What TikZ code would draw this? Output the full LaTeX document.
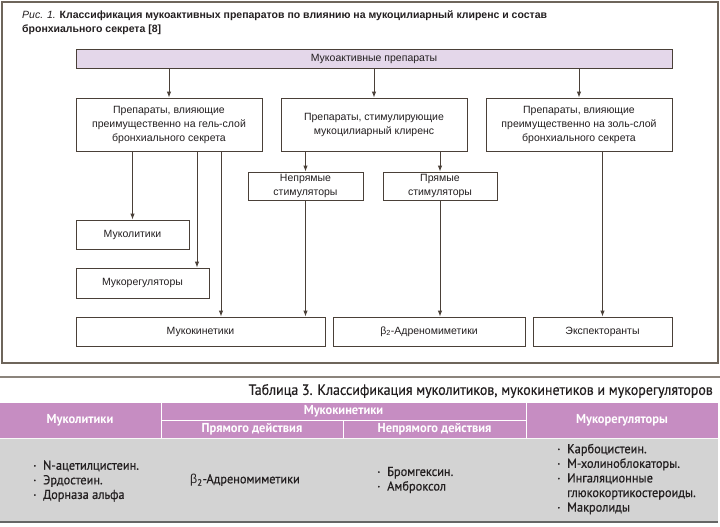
\documentclass[tikz,border=0pt]{standalone}
\usepackage{fontspec}
\setmainfont{Liberation Sans}
\newfontfamily\tabfont[FakeStretch=0.95,FakeBold=0.6]{PT Sans}
\newfontfamily\tabhfont[FakeStretch=0.96]{PT Sans}
\newfontfamily\tabtfont[FakeStretch=0.93,FakeBold=0.4]{PT Sans}
\newfontfamily\grkfont[FakeStretch=0.95]{Liberation Sans}
\usetikzlibrary{arrows.meta}
\definecolor{framec}{HTML}{6E655B}
\definecolor{linec}{HTML}{4A4038}
\definecolor{lav}{HTML}{E4D7EA}
\definecolor{hdr}{HTML}{C68DC2}
\definecolor{bodyg}{HTML}{D3D3D3}
\definecolor{txt}{HTML}{231F20}
\newcommand\bul{\makebox[10pt][l]{·}}
\tikzset{
  box/.style={draw=linec, line width=0.9pt, rectangle, inner sep=0pt, align=center,
    font=\fontsize{10.5}{14}\selectfont, text=txt},
  arr/.style={draw=linec, line width=0.9pt, -{Latex[length=6pt,width=4.5pt]}},
  hdtext/.style={text=white, font=\tabhfont\bfseries\fontsize{13}{14}\selectfont, inner sep=0pt},
  bdtext/.style={text=txt, font=\tabfont\fontsize{13}{14.6}\selectfont, inner sep=0pt, align=left, anchor=west}
}
\begin{document}
\begin{tikzpicture}[x=1pt,y=-1pt]
\useasboundingbox (0,0) rectangle (720,527);
\fill[white] (0,0) rectangle (720,527);
% outer frame
\draw[framec, line width=1.2pt] (2,2) rectangle (718,363);
% title
\node[anchor=north west, align=left, inner sep=0pt, text=txt,
  font=\fontsize{10.5}{14}\selectfont] (title) at (22,10)
  {\textit{Рис. 1.} \textbf{Классификация мукоактивных препаратов по влиянию на мукоцилиарный клиренс и состав}\\
   \textbf{бронхиального секрета [8]}};
% boxes
\node[box, fill=lav, minimum width=596pt, minimum height=19pt] (top) at (374,58.5) {Мукоактивные препараты};
\node[box, minimum width=186pt, minimum height=53pt] (A) at (169,124.5)
  {Препараты, влияющие\\преимущественно на гель-слой\\бронхиального секрета};
\node[box, minimum width=186pt, minimum height=53pt] (B) at (374,124.5)
  {Препараты, стимулирующие\\мукоцилиарный клиренс};
\node[box, minimum width=186pt, minimum height=53pt] (C) at (579,124.5)
  {Препараты, влияющие\\преимущественно на золь-слой\\бронхиального секрета};
\node[box, minimum width=115pt, minimum height=28pt] (nep) at (305.5,186) {Непрямые\\стимуляторы};
\node[box, minimum width=114pt, minimum height=28pt] (pr) at (440,186) {Прямые\\стимуляторы};
\node[box, minimum width=113pt, minimum height=29pt] (mlit) at (132.5,234.5) {Муколитики};
\node[box, minimum width=133pt, minimum height=30pt] (mreg) at (142.5,283) {Мукорегуляторы};
\node[box, minimum width=249pt, minimum height=29pt] (mkin) at (200.5,331.5) {Мукокинетики};
\node[box, minimum width=192pt, minimum height=29pt] (beta) at (429,331.5) {β\textsubscript{2}-Адреномиметики};
\node[box, minimum width=139pt, minimum height=29pt] (expc) at (602.5,331.5) {Экспекторанты};
% helper x positions
\coordinate (x197) at (197,0);
\coordinate (x221) at (221,0);
% connectors
\draw[arr] (top.south -| A.north) -- (A.north);
\draw[arr] (top.south -| B.north) -- (B.north);
\draw[arr] (top.south -| C.north) -- (C.north);
\draw[arr] (A.south -| mlit.north) -- (mlit.north);
\draw[arr] (A.south -| x197) -- (mreg.north -| x197);
\draw[arr] (A.south -| x221) -- (mkin.north -| x221);
\draw[arr] (B.south -| nep.north) -- (nep.north);
\draw[arr] (B.south -| pr.north) -- (pr.north);
\draw[arr] (nep.south) -- (nep.south |- mkin.north);
\draw[arr] (pr.south) -- (pr.south |- beta.north);
\draw[arr] (C.south -| expc.north) -- (expc.north);
% divider
\draw[color=framec!80, line width=1.8pt] (0,377) -- (720,377);
% table title
\node[anchor=east, inner sep=0pt, text=txt, font=\tabtfont\fontsize{15}{17}\selectfont] (ttitle) at (713,391)
  {Таблица 3. Классификация муколитиков, мукокинетиков и мукорегуляторов};
% table
\fill[hdr] (0,403) rectangle (718,438);
\fill[bodyg] (0,438) rectangle (718,522);
\draw[white, line width=1pt] (161,403) -- (161,438);
\draw[white, line width=1pt] (526,403) -- (526,438);
\draw[white, line width=1pt] (161,420) -- (526,420);
\draw[white, line width=1pt] (343,420) -- (343,438);
\draw[white!85!bodyg, line width=1pt] (0,438.5) -- (718,438.5);
\draw[color=black!60, line width=2pt] (0,522) -- (718,522);
\node[hdtext] (h1) at (80,420.5) {Муколитики};
\node[hdtext] (h2) at (343.5,411.5) {Мукокинетики};
\node[hdtext] (h21) at (252,429.5) {Прямого действия};
\node[hdtext] (h22) at (434.5,429.5) {Непрямого действия};
\node[hdtext] (h3) at (622,420.5) {Мукорегуляторы};
\node[bdtext] (b1) at (33,481) {\bul N-ацетилцистеин.\\\bul Эрдостеин.\\\bul Дорназа альфа};
\node[bdtext] (b2) at (190,480) {{\grkfont β}\textsubscript{2}-Адреномиметики};
\node[bdtext] (b3) at (377,480) {\bul Бромгексин.\\\bul Амброксол};
\node[bdtext] (b4) at (557,479) {\bul Карбоцистеин.\\\bul М-холиноблокаторы.\\\bul Ингаляционные\\\hspace*{10pt}глюкокортикостероиды.\\\bul Макролиды};
\end{tikzpicture}
\end{document}
